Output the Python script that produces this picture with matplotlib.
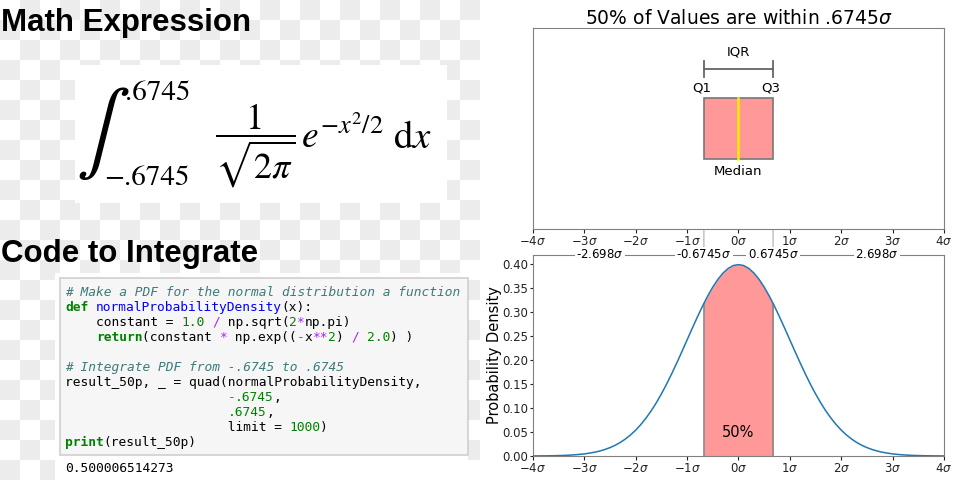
import numpy as np
import matplotlib.pyplot as plt
from matplotlib.patches import Rectangle, ConnectionPatch
from matplotlib.ticker import FixedLocator, FixedFormatter

# values
sigma_x = [-4.0, -3.9, -3.8, -3.7, -3.6, -3.5, -3.4, -3.3, -3.2, -3.1, -3.0,
           -2.9, -2.8, -2.7, -2.6, -2.5, -2.4, -2.3, -2.2, -2.1, -2.0,
           -1.9, -1.8, -1.7, -1.6, -1.5, -1.4, -1.3, -1.2, -1.1, -1.0,
           -0.9, -0.8, -0.7, -0.6745, -0.6, -0.5, -0.4, -0.3, -0.2, -0.1, 0.0,
           0.1, 0.2, 0.3, 0.4, 0.5, 0.6, 0.6745, 0.7, 0.8, 0.9, 1.0,
           1.1, 1.2, 1.3, 1.4, 1.5, 1.6, 1.7, 1.8, 1.9, 2.0,
           2.1, 2.2, 2.3, 2.4, 2.5, 2.6, 2.7, 2.8, 2.9, 3.0,
           3.1, 3.2, 3.3, 3.4, 3.5, 3.6, 3.7, 3.8, 3.9, 4.0]
density = [0.0001, 0.0002, 0.0003, 0.0004, 0.0006, 0.0009, 0.0012, 0.0017, 0.0024, 0.0033, 0.0044,
           0.006, 0.0079, 0.0104, 0.0136, 0.0175, 0.0224, 0.0283, 0.0355, 0.044, 0.054,
           0.0656, 0.079, 0.094, 0.1109, 0.1295, 0.1497, 0.1714, 0.1942, 0.2179, 0.242,
           0.2661, 0.2897, 0.3123, 0.3178, 0.3332, 0.3521, 0.3683, 0.3814, 0.391, 0.397, 0.3989,
           0.397, 0.391, 0.3814, 0.3683, 0.3521, 0.3332, 0.3178, 0.3123, 0.2897, 0.2661, 0.242,
           0.2179, 0.1942, 0.1714, 0.1497, 0.1295, 0.1109, 0.094, 0.079, 0.0656, 0.054,
           0.044, 0.0355, 0.0283, 0.0224, 0.0175, 0.0136, 0.0104, 0.0079, 0.006, 0.0044,
           0.0033, 0.0024, 0.0017, 0.0012, 0.0009, 0.0006, 0.0004, 0.0003, 0.0002, 0.0001]
q1, median, q3 = -0.6745, 0.0, 0.6745
q_density = 0.3178
top_marks = [-2.698, -0.6745, 0.6745, 2.698]
top_labels = ['-2.698$\\sigma$', '-0.6745$\\sigma$', '0.6745$\\sigma$', '2.698$\\sigma$']
sigma_ticks = [-4, -3, -2, -1, 0, 1, 2, 3, 4]
sigma_labels = ['$%d\\sigma$' % t for t in sigma_ticks]
density_ticks = [0.0, 0.05, 0.10, 0.15, 0.20, 0.25, 0.30, 0.35, 0.40]

code_lines = [
    [("# Make a PDF for the normal distribution a function", 'com')],
    [("def", 'kw'), (" ", ''), ("normalProbabilityDensity", 'fn'), ("(x):", '')],
    [("    constant = ", ''), ("1.0", 'num'), (" ", ''), ("/", 'op'), (" np.sqrt(", ''),
     ("2", 'num'), ("*", 'op'), ("np.pi)", '')],
    [("    ", ''), ("return", 'kw'), ("(constant ", ''), ("*", 'op'), (" np.exp((", ''),
     ("-", 'op'), ("x", ''), ("**", 'op'), ("2", 'num'), (") ", ''), ("/", 'op'), (" ", ''),
     ("2.0", 'num'), (") )", '')],
    [],
    [("# Integrate PDF from -.6745 to .6745", 'com')],
    [("result_50p, _ = quad(normalProbabilityDensity,", '')],
    [(" " * 21, ''), ("-", 'op'), (".6745", 'num'), (",", '')],
    [(" " * 21, ''), (".6745", 'num'), (",", '')],
    [(" " * 21 + "limit = ", ''), ("1000", 'num'), (")", '')],
    [("print", 'kw'), ("(result_50p)", '')],
]
code_styles = {
    'com': dict(color='#3d7a7a', style='italic'),
    'kw': dict(color='#008000', weight='bold'),
    'fn': dict(color='#0000ff'),
    'num': dict(color='#008000'),
    'op': dict(color='#aa22ff'),
    '': dict(color='#000000'),
}

fig = plt.figure(figsize=(9.6, 4.8), dpi=100)

# background in pixel units, checkerboard on the left half
bg = fig.add_axes([0, 0, 1, 1])
ii, jj = np.indices((24, 24))
checker = np.where((ii + jj) % 2 == 1, 0.925, 1.0)
bg.imshow(checker, cmap='gray', vmin=0, vmax=1, extent=(0, 480, 480, 0),
          interpolation='nearest', aspect='auto')
bg.set_xlim(0, 960)
bg.set_ylim(480, 0)
bg.axis('off')

bg.text(1, 31, 'Math Expression', fontsize=22.5, weight='bold',
        family='Liberation Sans', va='baseline')
bg.text(1, 262, 'Code to Integrate', fontsize=22.5, weight='bold',
        family='Liberation Sans', va='baseline')

# formula
bg.add_patch(Rectangle((75, 65), 372, 138, facecolor='white', edgecolor='none'))
bg.text(76, 134, r'$\int$', fontsize=58, math_fontfamily='stix', va='center')
bg.text(125, 100, '.6745', fontsize=21, family='STIXGeneral', va='baseline')
bg.text(104, 185, '\u2212.6745', fontsize=21, family='STIXGeneral', va='baseline')
bg.text(255, 143, r'$\dfrac{1}{\sqrt{2\pi}}$', fontsize=26, math_fontfamily='stix',
        ha='center', va='baseline')
bg.text(301, 148, r'$e^{-x^2/2}$', fontsize=27, math_fontfamily='stix', va='baseline')
bg.text(393, 148, r'$\mathrm{d}x$', fontsize=28, math_fontfamily='stix', va='baseline')

# code cell
bg.add_patch(Rectangle((55, 273), 413, 207, facecolor='white', edgecolor='none'))
bg.add_patch(Rectangle((60, 278), 408, 177, facecolor='#f6f6f6', edgecolor='#cfcfcf', lw=1.2))
fs = 9.25
cw = 0.602 * fs * 100 / 72
for k, line in enumerate(code_lines):
    y = 292.3 + 15 * k
    col = 0
    for tok, kind in line:
        if tok.strip():
            bg.text(65 + col * cw, y, tok, fontsize=fs, family='DejaVu Sans Mono',
                    va='center', **code_styles[kind])
        col += len(tok)
bg.text(65, 469, '0.500006514273', fontsize=fs, family='DejaVu Sans Mono',
        va='center', color='#000000')

spine_c = '#808080'

# top: box plot
ax1 = fig.add_axes([0.5552, 0.5229, 0.4281, 0.4188])
ax1.set_xlim(-4, 4)
ax1.set_ylim(0, 1)
ax1.set_yticks([])
ax1.xaxis.set_major_locator(FixedLocator(sigma_ticks))
ax1.xaxis.set_major_formatter(FixedFormatter(sigma_labels))
ax1.tick_params(labelsize=8.5, colors='#222222', length=3, pad=1.5)
for s in ax1.spines.values():
    s.set_color(spine_c)
ax1.set_title('50% of Values are within .6745$\\sigma$', fontsize=13.5, pad=3)
ax1.barh(0.5, q3 - q1, left=q1, height=0.3, color='red', alpha=0.4)
ax1.barh(0.5, q3 - q1, left=q1, height=0.3, facecolor='none', edgecolor='#777777', lw=1.2)
ax1.plot([median, median], [0.35, 0.65], color='#ffee00', lw=1.8)
ax1.plot([q1, q3], [0.796, 0.796], color='#666666', lw=1.3)
ax1.plot([q1, q1], [0.756, 0.836], color='#666666', lw=1.3)
ax1.plot([q3, q3], [0.756, 0.836], color='#666666', lw=1.3)
ax1.text(0, 0.88, 'IQR', ha='center', va='center', fontsize=9.5)
ax1.text(q1 - 0.04, 0.70, 'Q1', ha='center', va='center', fontsize=9.5)
ax1.text(q3 - 0.04, 0.70, 'Q3', ha='center', va='center', fontsize=9.5)
ax1.text(0, 0.284, 'Median', ha='center', va='center', fontsize=9.5)

# bottom: normal density
ax2 = fig.add_axes([0.5552, 0.05, 0.4281, 0.4188])
x = np.array(sigma_x)
d = np.array(density)
ax2.plot(x, d, color='#1f77b4', lw=1.1, zorder=3)
inside = (x >= q1) & (x <= q3)
ax2.fill_between(x[inside], d[inside], color='red', alpha=0.4, lw=0)
ax2.plot([q1, q1], [0, q_density], color='#888888', lw=1.2)
ax2.plot([q3, q3], [0, q_density], color='#888888', lw=1.2)
ax2.set_xlim(-4, 4)
ax2.set_ylim(0, 0.419)
ax2.xaxis.set_major_locator(FixedLocator(sigma_ticks))
ax2.xaxis.set_major_formatter(FixedFormatter(sigma_labels))
ax2.set_yticks(density_ticks)
ax2.set_yticklabels(['%.2f' % v for v in density_ticks])
ax2.tick_params(labelsize=8.5, colors='#222222', length=3, pad=1.5)
ax2.tick_params(axis='y', length=2.5, pad=1)
for s in ax2.spines.values():
    s.set_color(spine_c)
ax2.set_ylabel('Probability Density', fontsize=10.5, labelpad=0)
ax2.text(0, 0.05, '50%', ha='center', va='center', fontsize=10.5)
for xm, lab in zip(top_marks, top_labels):
    ax2.text(xm, 1.0, lab, transform=ax2.get_xaxis_transform(), ha='center', va='center',
             fontsize=8.5, bbox=dict(facecolor='white', edgecolor='none', pad=1), zorder=5)

for q in (q1, q3):
    con = ConnectionPatch(xyA=(q, 0.35), coordsA=ax1.transData,
                          xyB=(q, q_density), coordsB=ax2.transData,
                          color='#c8c8c8', lw=1.2, zorder=0)
    fig.add_artist(con)

fig.savefig('out.png', dpi=100)
